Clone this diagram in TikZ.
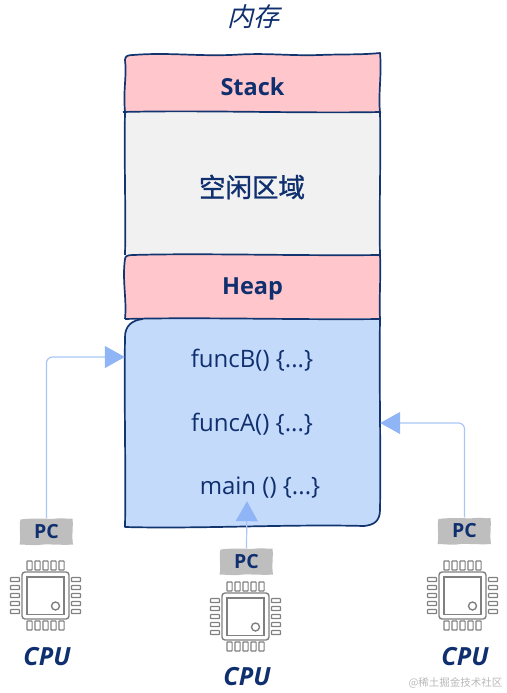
\documentclass[tikz,border=0pt]{standalone}
\usepackage{fontspec}
\setmainfont{Open Sans}
\newfontfamily\cjkfont{Noto Sans CJK SC}
\newfontfamily\cjkmid[FakeBold=1.1]{Noto Sans CJK SC}
\newfontfamily\cjkslant[FakeSlant=0.25]{Noto Sans CJK SC}
\usetikzlibrary{arrows.meta}
\definecolor{navy}{HTML}{0F2F6E}
\definecolor{edgeblue}{HTML}{12346F}
\definecolor{pinkfill}{HTML}{FFC7CC}
\definecolor{greyfill}{HTML}{F1F1F1}
\definecolor{bluefill}{HTML}{C3DAFB}
\definecolor{linkblue}{HTML}{A9C6F5}
\definecolor{tipblue}{HTML}{8FB5F7}
\definecolor{pcgrey}{HTML}{BEBEBE}
\definecolor{chipgrey}{HTML}{808080}
\tikzset{
  x=1pt,y=-1pt,
  sketch/.style={draw=edgeblue,line width=1.7pt,line join=round},
  boxlabel/.style={font=\fontsize{23.5}{26}\selectfont\bfseries,text=navy,inner sep=0pt},
  codelabel/.style={font=\fontsize{24}{26}\selectfont,text=navy,inner sep=0pt},
  cpulabel/.style={font=\fontsize{25}{27}\selectfont\bfseries\itshape,text=navy,inner sep=0pt},
  pclabel/.style={font=\fontsize{19.5}{21}\selectfont\bfseries,text=navy,inner sep=0pt},
  link/.style={draw=linkblue,line width=1.2pt,rounded corners=6pt,-{Triangle[length=20pt,width=22pt,color=tipblue]}},
  pin/.style={draw=chipgrey,line width=1.2pt,rounded corners=0.6pt},
  chipline/.style={draw=chipgrey,line width=1.4pt},
  region/.style={inner sep=0pt,minimum height=#1,minimum width=255pt},
  pcanchor/.style={inner sep=0pt,minimum width=53pt,minimum height=27pt}
}
\newcommand{\chipicon}[2]{%
  \begin{scope}[shift={(#1,#2)}]
    \draw[chipline,rounded corners=3pt] (-23.5,-23.5) rectangle (23.5,23.5);
    \draw[chipline] (-18.5,-18.5) rectangle (18.5,19);
    \draw[chipline] (10,10.5) circle (4pt);
    \foreach \k in {-16,-8,0,8,16}{
      \draw[pin] (\k-2.6,-34.5) rectangle (\k+2.6,-25.5);
      \draw[pin] (\k-2.6,25.5) rectangle (\k+2.6,34.5);
      \draw[pin] (-35,\k-2) rectangle (-26,\k+2);
      \draw[pin] (26,\k-2) rectangle (35,\k+2);
    }
  \end{scope}}
% rough grey patch behind a PC label
\newcommand{\pcpatch}[2]{%
  \fill[pcgrey,shift={(#1,#2)}] (-26,-12) .. controls (-12,-14) and (5,-12) .. (10,-13) .. controls (16,-14) and (22,-12) .. (26,-13)
    .. controls (27,-5) and (25,4) .. (26.5,13) .. controls (15,14) and (0,12) .. (-8,13.5) .. controls (-15,14) and (-22,13) .. (-27,13)
    .. controls (-25,5) and (-28,-4) .. (-26,-12) -- cycle;}
\begin{document}
\begin{tikzpicture}
\useasboundingbox (0,0) rectangle (506,693);
% title
\node[inner sep=0pt,text=navy,font=\fontsize{26}{28}\selectfont\cjkslant] (title) at (253,17) {内存};
% fills
\path[fill=pinkfill] (125,60) .. controls (125,56) and (128,55) .. (133,55) .. controls (200,53) and (300,57) .. (380,53) -- (380,112) -- (125,112) -- cycle;
\path[fill=greyfill] (125,112) -- (380,112) -- (380,255) -- (125,255) -- cycle;
\path[fill=pinkfill] (125,258) .. controls (126,255) and (128,255) .. (132,255) .. controls (200,253) and (300,256) .. (380,255) -- (380,318) .. controls (300,319) and (200,317) .. (125,319) -- cycle;
\path[fill=bluefill] (125,336) .. controls (125,325) and (132,320) .. (142,319) .. controls (220,317) and (300,321) .. (380,319) -- (380,510) .. controls (380,521) and (374,525) .. (364,526) .. controls (290,524) and (200,529) .. (125,527) -- cycle;
% outlines
\draw[sketch] (125,112) .. controls (123,90) and (127,75) .. (125,60) .. controls (125,56) and (128,55) .. (133,55) .. controls (170,52) and (200,57) .. (240,54.5) .. controls (270,53) and (290,56) .. (320,55) .. controls (345,54) and (360,55) .. (380,53) .. controls (382,75) and (378,95) .. (380,112);
\draw[sketch] (123,112) .. controls (200,110) and (300,113.5) .. (381,112);
\draw[sketch] (125,112) .. controls (124,160) and (126,210) .. (125,255);
\draw[sketch] (380,112) .. controls (381,160) and (379,210) .. (380,255);
\draw[sketch] (125,259) .. controls (125,256) and (128,255) .. (133,255) .. controls (200,253) and (300,256) .. (380,255) .. controls (381,275) and (379,300) .. (380,319);
\draw[sketch] (125,259) .. controls (122,280) and (127,300) .. (125,319);
\draw[sketch] (125,319) .. controls (200,317) and (300,320) .. (380,319);
\draw[sketch] (125,337) .. controls (125,326) and (132,320) .. (143,319);
\draw[sketch] (125,337) .. controls (124,400) and (126,470) .. (125,527) .. controls (200,529) and (290,524) .. (364,526) .. controls (374,525) and (380,521) .. (380,510) .. controls (381,450) and (379,380) .. (380,319);
% named regions
\node[region=58pt]  (stack) at (252.5,83)  {};
\node[region=143pt] (free)  at (252.5,183.5) {};
\node[region=64pt]  (heap)  at (252.5,287) {};
\node[region=208pt] (code)  at (252.5,423) {};
\node[boxlabel] (stacktxt) at (252.5,87) {Stack};
\node[inner sep=0pt,text=navy,font=\fontsize{26.5}{28}\selectfont\cjkmid] (freetxt) at (252,187) {空闲区域};
\node[boxlabel] (heaptxt) at (252.5,289) {Heap};
\node[codelabel] (fb) at (252,360) {funcB() \{...\}};
\node[codelabel] (fa) at (252,424) {funcA() \{...\}};
\node[codelabel] (fm) at (260,488) {main () \{...\}};
% PC patches
\pcpatch{46.5}{531.5}
\pcpatch{246.5}{561.5}
\pcpatch{464.5}{531}
\node[pcanchor] (pca) at (46.5,531.5) {};
\node[pcanchor] (pcb) at (246.5,561.5) {};
\node[pcanchor] (pcc) at (464.5,531) {};
\node[pclabel] (pcatxt) at (pca) {PC};
\node[pclabel] (pcbtxt) at (pcb) {PC};
\node[pclabel] (pcctxt) at (pcc) {PC};
% connectors
\draw[link] (pca.north) |- ([yshift=66pt]code.west);
\draw[link,rounded corners=0pt] (pcb.north) -- ([xshift=-5.5pt,yshift=26pt]code.south);
\draw[link] (pcc.north) |- (code.east);
% chips
\chipicon{45.5}{595.5}
\chipicon{245.5}{616.5}
\chipicon{462.5}{595.5}
\node[cpulabel] (cpua) at (47,657) {CPU};
\node[cpulabel] (cpub) at (247,677) {CPU};
\node[cpulabel] (cpuc) at (465,657) {CPU};
% watermark
\node[inner sep=0pt,text=black!28,font=\fontsize{10.5}{12}\selectfont\cjkfont] (mark) at (455.5,683) {@稀土掘金技术社区};
\end{tikzpicture}
\end{document}
